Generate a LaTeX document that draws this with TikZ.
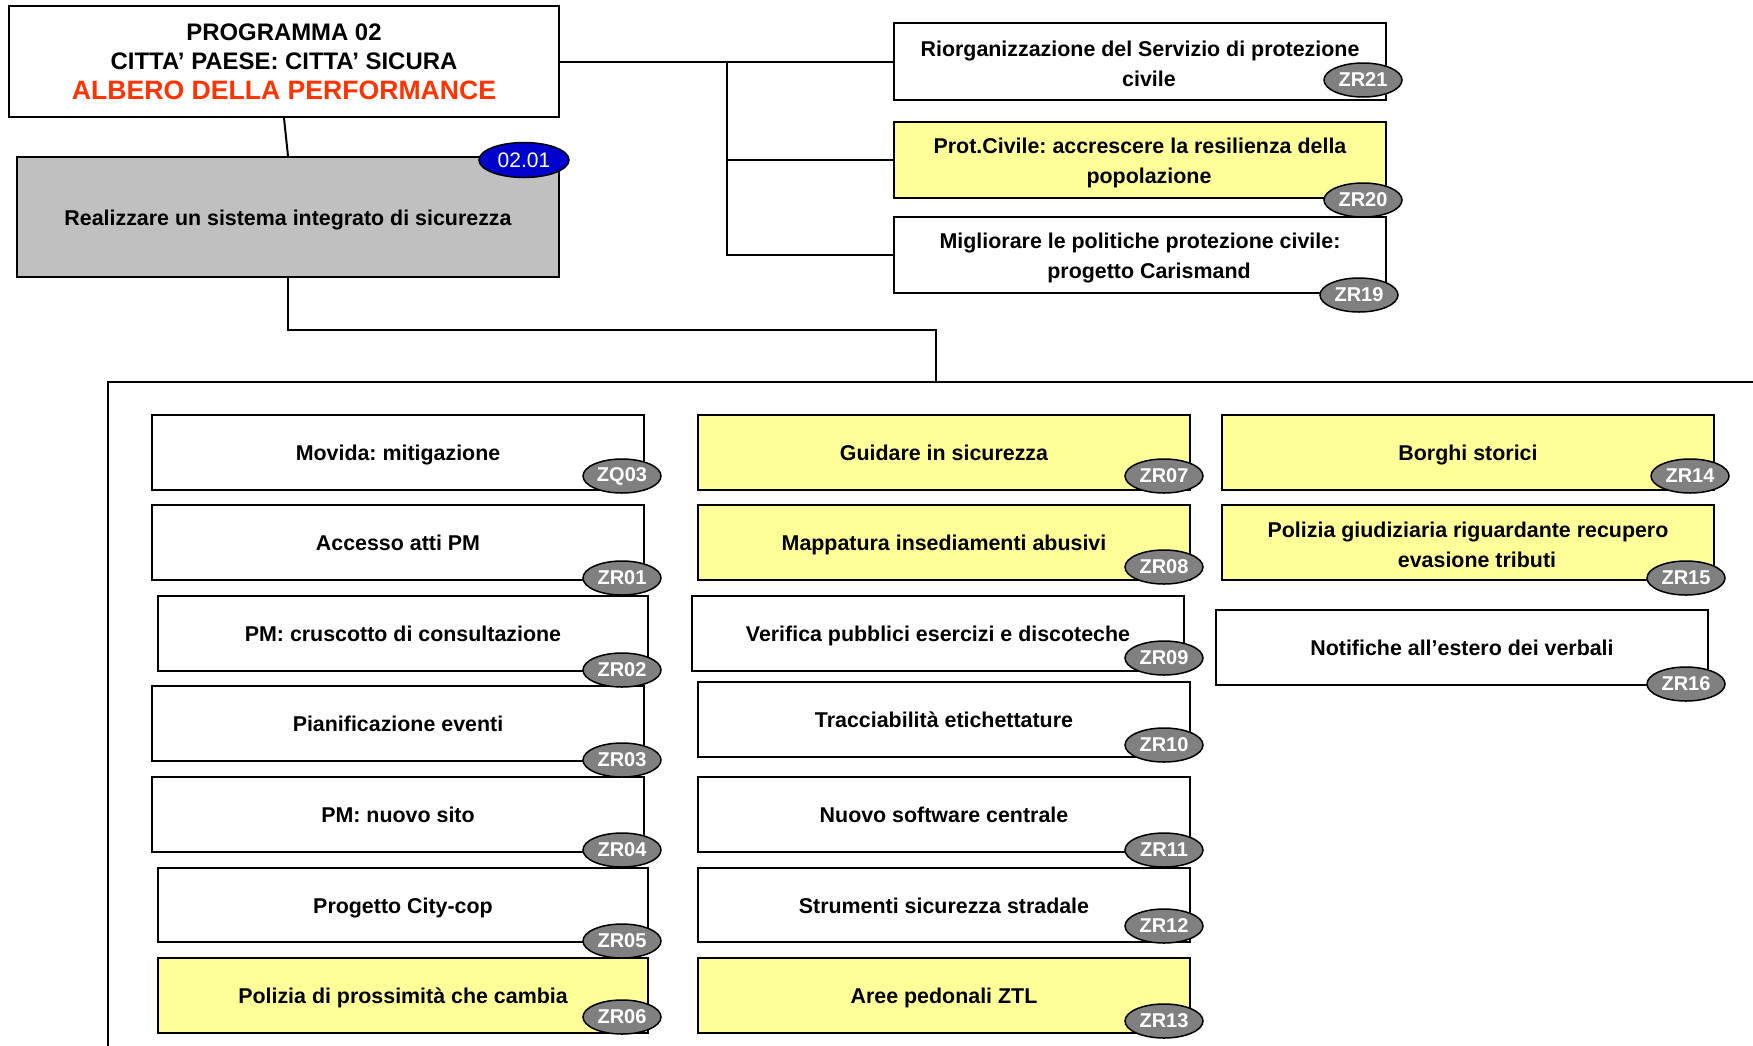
\documentclass[tikz,border=0pt]{standalone}
\usepackage{fontspec}
\setmainfont{Liberation Sans}
\frenchspacing
\usetikzlibrary{shapes.geometric}
\definecolor{boxyellow}{HTML}{FFFF99}
\definecolor{boxgray}{HTML}{C0C0C0}
\definecolor{ellgray}{HTML}{808080}
\definecolor{ellblue}{HTML}{0000CC}
\definecolor{titlered}{HTML}{FF3300}
\pgfdeclarelayer{fore}
\pgfsetlayers{main,fore}
\newcommand\boxstrut{\rule[-5pt]{0pt}{26pt}}
\newcommand\nl{\\\hspace*{18pt}}
\tikzset{
  obox/.style={draw=black, line width=2pt, inner sep=0pt, align=center,
    font=\fontsize{21.4}{30}\selectfont\bfseries},
  ell/.style={ellipse, draw=black, line width=1.5pt, fill=ellgray, inner sep=0pt,
    minimum width=78, minimum height=34, text=white,
    font=\fontsize{20}{20}\selectfont\bfseries},
  conn/.style={draw=black, line width=2pt},
}
% name, x1, y1, x2, y2, fill, text, code, ellipse centre
\newcommand\objective[9]{%
  \node[obox, fill=#6, minimum width={#4-#2}, minimum height={#5-#3}] (#1)
    at ({(#2+#4)/2},{(#3+#5)/2}) {\boxstrut#7};
  \begin{pgfonlayer}{fore}
    \node[ell] (#1c) at #9 {#8};
  \end{pgfonlayer}
}
\begin{document}
\begin{tikzpicture}[x=1pt,y=-1pt]
\useasboundingbox (0,0) rectangle (1753,1045);
\fill[white] (0,0) rectangle (1753,1045);

% container (runs off the page to right and bottom)
\node[draw=black, line width=2pt, minimum width=1700, minimum height=720, inner sep=0pt]
  (cont) at (958,742) {};

% title
\node[obox, fill=white, minimum width=550, minimum height=111,
  font=\fontsize{23.9}{29.5}\selectfont\bfseries] (t) at (284,61.5)
  {PROGRAMMA 02\\CITTA’ PAESE: CITTA’ SICURA\\
   {\color{titlered}\fontsize{26.6}{31}\selectfont ALBERO DELLA PERFORMANCE}};

% main objective
\node[obox, fill=boxgray, minimum width=542, minimum height=120] (g) at (288,217)
  {\boxstrut Realizzare un sistema integrato di sicurezza};
\node[ellipse, draw=black, line width=1.5pt, fill=ellblue, inner sep=0pt,
  minimum width=90, minimum height=35, text=white,
  font=\fontsize{21}{21}\selectfont] (gc) at (524,160) {02.01};

% right objectives
\objective{r21}{894}{23}{1386}{100}{white}{Riorganizzazione del Servizio di protezione\nl civile}{ZR21}{(1363,80)}
\objective{r20}{894}{122}{1386}{198}{boxyellow}{Prot.Civile: accrescere la resilienza della\nl popolazione}{ZR20}{(1363,200)}
\objective{r19}{894}{217}{1386}{293}{white}{Migliorare le politiche protezione civile:\nl progetto Carismand}{ZR19}{(1359,295)}

% column 1
\objective{zq03}{152}{415}{644}{490}{white}{Movida: mitigazione}{ZQ03}{(622,476)}
\objective{zr01}{152}{505}{644}{580}{white}{Accesso atti PM}{ZR01}{(622,578)}
\objective{zr02}{158}{596}{648}{671}{white}{PM: cruscotto di consultazione}{ZR02}{(622,670)}
\objective{zr03}{152}{686}{644}{761}{white}{Pianificazione eventi}{ZR03}{(622,760)}
\objective{zr04}{152}{777}{644}{852}{white}{PM: nuovo sito}{ZR04}{(622,850)}
\objective{zr05}{158}{868}{648}{942}{white}{Progetto City-cop}{ZR05}{(622,941)}
\objective{zr06}{158}{958}{648}{1033}{boxyellow}{Polizia di prossimità che cambia}{ZR06}{(622,1017)}

% column 2
\objective{zr07}{698}{415}{1190}{490}{boxyellow}{Guidare in sicurezza}{ZR07}{(1164,476)}
\objective{zr08}{698}{505}{1190}{580}{boxyellow}{Mappatura insediamenti abusivi}{ZR08}{(1164,567)}
\objective{zr09}{692}{596}{1184}{671}{white}{Verifica pubblici esercizi e discoteche}{ZR09}{(1164,658)}
\objective{zr10}{698}{682}{1190}{757}{white}{Tracciabilità etichettature}{ZR10}{(1164,745)}
\objective{zr11}{698}{777}{1190}{852}{white}{Nuovo software centrale}{ZR11}{(1164,850)}
\objective{zr12}{698}{868}{1190}{942}{white}{Strumenti sicurezza stradale}{ZR12}{(1164,926)}
\objective{zr13}{698}{958}{1190}{1033}{boxyellow}{Aree pedonali ZTL}{ZR13}{(1164,1021)}

% column 3
\objective{zr14}{1222}{415}{1714}{490}{boxyellow}{Borghi storici}{ZR14}{(1690,476)}
\objective{zr15}{1222}{505}{1714}{580}{boxyellow}{Polizia giudiziaria riguardante recupero\nl evasione tributi}{ZR15}{(1686,578)}
\objective{zr16}{1216}{610}{1708}{685}{white}{Notifiche all’estero dei verbali}{ZR16}{(1686,684)}

% connectors
\coordinate (j1) at (727,61.5);
\coordinate (j2) at (936,330);
\draw[conn] (t.south) -- (g.north);
\draw[conn] (t.east) -- (r21.west);
\draw[conn] (j1) |- (r20.west);
\draw[conn] (j1) |- (r19.west);
\draw[conn] (g.south) |- (j2) -- (j2 |- cont.north);
\end{tikzpicture}
\end{document}
